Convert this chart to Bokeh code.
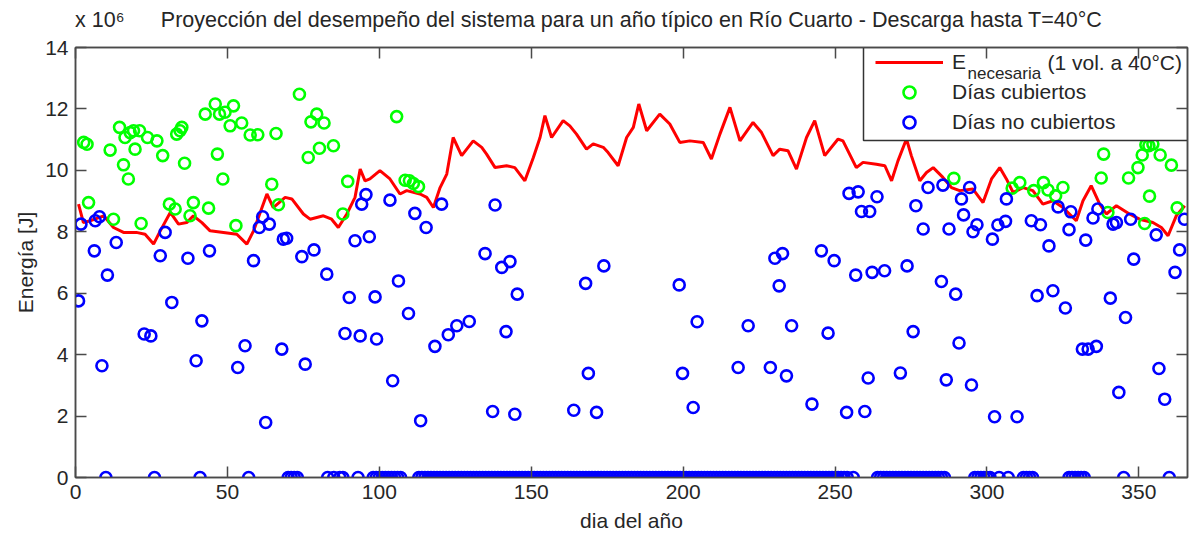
from bokeh.plotting import figure
from bokeh.models import (LinearAxis, FixedTicker, Legend, LegendItem,
                          Range1d, CustomJSTickFormatter)
from bokeh.core.properties import value
from bokeh.embed import file_html
from bokeh.resources import INLINE

FONT = "Liberation Sans"
TXT = "#262626"
AX = "#4a4a4a"

title_text = "Proyección del desempeño del sistema para un año típico en Río Cuarto - Descarga hasta T=40°C"
multiplier_text = "x 10\u2076"
x_label = "dia del año"
y_label = "Energía [J]"
legend_labels = ["E", "Días cubiertos", "Días no cubiertos"]
legend_sub = "necesaria"
legend_rest = "(1 vol. a 40°C)"
x_ticks = [0, 50, 100, 150, 200, 250, 300, 350]
y_ticks = [0, 2, 4, 6, 8, 10, 12, 14]

# Energy needed (x10^6 J)
need_day = [1, 2.6, 4.8, 9.3, 12.5, 15.8, 20, 22.9, 25.7, 27.9, 31.2, 33.9, 36.6, 38.8, 41.6,
            44.3, 48.7, 53.1, 56.4, 58.6, 63.0, 65.1, 69.0, 71.2, 75.0, 77.2, 81.6, 84.3, 86.5,
            89.3, 92.0, 93.7, 95.3, 96.9, 100.2, 103.5, 106.8, 109.0, 113.4, 115.6, 117.8, 120.0,
            122.2, 124.3, 127.1, 130.9, 133.7, 135.3, 138.1, 141.9, 144.6, 147.9, 150.7, 152.9,
            154.5, 156.7, 160.5, 162.7, 164.9, 168.2, 170.4, 173.7, 175.3, 178.6, 181.4, 183.6,
            185.4, 188.0, 192.3, 195.6, 198.9, 202.2, 206.6, 209.3, 212.1, 215.4, 218.7, 223.0,
            225.8, 229.6, 231.8, 234.5, 237.3, 240.6, 243.3, 246.6, 251.0, 252.6, 257.0, 259.2,
            263.6, 266.4, 268.6, 270.7, 273.5, 275.1, 277.9, 280.1, 282.3, 285.5, 288.3, 291.0,
            295.4, 298.7, 301.5, 304.2, 306.4, 308.6, 311.9, 315.1, 318.4, 321.7, 325.0, 329.4,
            331.6, 334.3, 337.1, 339.3, 342.6, 346.9, 350.2, 354.6, 357.4, 359.6, 362.3, 365.1]
need_val = [8.90, 8.30, 8.36, 8.52, 8.14, 7.98, 7.98, 7.92, 7.60, 8.03, 8.63, 8.25, 8.30, 8.52, 8.30,
            8.03, 7.98, 7.92, 7.60, 8.03, 9.23, 8.79, 9.12, 9.07, 8.58, 8.41, 8.52, 8.41, 8.14,
            8.58, 9.12, 10.04, 9.66, 9.72, 9.99, 9.72, 9.23, 9.34, 9.23, 9.12, 8.79, 9.44,
            9.88, 11.07, 10.48, 10.96, 10.75, 10.53, 10.09, 10.15, 10.09, 9.66, 10.42, 11.07,
            11.78, 11.07, 11.62, 11.45, 11.18, 10.69, 10.86, 10.75, 10.58, 10.15, 11.07, 11.40,
            12.16, 11.29, 11.83, 11.51, 10.91, 10.96, 10.91, 10.37, 11.18, 12.05, 10.96, 11.56,
            11.23, 10.48, 10.69, 10.64, 10.04, 11.07, 11.62, 10.48, 11.02, 10.96, 10.09, 10.26,
            10.20, 10.15, 9.66, 10.31, 11.02, 10.48, 9.66, 9.93, 10.09, 9.77, 9.44, 9.34,
            9.39, 8.95, 9.72, 10.09, 9.72, 9.28, 9.44, 9.34, 8.90, 9.01, 8.79, 8.36,
            9.01, 9.50, 8.90, 8.58, 8.85, 8.58, 8.41, 8.30, 8.14, 7.87, 8.52, 8.85]

# Covered days (x10^6 J)
cov_day = [2.7, 3.8, 4.3, 11.4, 12.5, 14.5, 15.8, 16.3, 17.4, 18.0, 19.1, 19.6, 21.1, 21.6, 23.7,
           26.8, 28.7, 30.9, 32.8, 33.3, 34.4, 35.0, 35.9, 37.7, 38.8, 42.7, 43.8, 46.0, 46.7,
           47.4, 48.5, 49.2, 50.9, 52.0, 52.8, 54.7, 57.5, 60.0, 64.6, 66.0, 66.8, 73.7, 76.6,
           77.5, 79.4, 80.3, 81.8, 84.9, 88.0, 89.6, 105.7, 108.5, 109.9, 111.2, 112.9,
           289.1, 308.3, 310.8, 315.4, 318.6, 320.1, 322.6, 325.0, 338.4, 337.6, 339.8, 346.6,
           349.7, 351.1, 352.3, 351.9, 353.3, 353.5, 354.6, 357.0, 360.7, 362.6]
cov_val = [10.91, 10.85, 8.95, 10.66, 8.41, 11.40, 10.18, 11.07, 9.72, 11.23, 11.29, 10.69, 11.29, 8.27, 11.07,
           10.96, 10.48, 8.90, 8.74, 11.18, 11.29, 11.40, 10.23, 8.52, 8.95, 11.83, 8.77, 12.16, 10.53,
           11.83, 9.72, 11.89, 11.45, 12.10, 8.20, 11.54, 11.15, 11.16, 9.55, 11.20, 8.88, 12.48, 10.42,
           11.58, 11.83, 10.72, 11.54, 10.80, 8.58, 9.64, 11.75, 9.68, 9.66, 9.57, 9.47,
           9.74, 9.42, 9.60, 9.34, 9.60, 9.36, 9.17, 9.44, 10.53, 9.75, 8.63, 9.75,
           10.09, 10.50, 10.83, 8.27, 10.80, 9.16, 10.86, 10.50, 10.17, 8.78]

# Days not covered, non-zero (x10^6 J)
unc_day = [1.0, 1.8, 6.2, 6.5, 7.9, 8.7, 10.5, 13.4, 22.6, 24.8, 27.9, 29.5, 31.7, 37.0, 39.7,
           41.6, 44.1, 53.4, 55.8, 58.6, 60.5, 61.6, 62.6, 63.8, 67.9, 68.4, 69.5, 74.5, 75.6,
           78.5, 82.7, 88.7, 90.1, 92.0, 93.7, 94.2, 95.6, 96.7, 98.6, 99.1, 103.5, 104.4, 106.3,
           109.6, 111.7, 113.6, 115.4, 118.3, 120.5, 122.7, 125.5, 129.6, 134.8, 137.3, 138.1,
           140.3, 141.7, 143.0, 144.6, 145.4, 164.0, 167.9, 168.8, 171.5, 173.9, 198.7, 199.8,
           203.3, 204.6, 218.1, 221.4, 228.7, 230.2, 231.6, 232.7, 234.0, 235.7, 242.4, 245.5,
           247.7, 249.7, 253.8, 254.6, 256.8, 257.6, 258.7, 259.8, 260.9, 261.4, 262.2, 263.8,
           266.3, 271.5, 273.7, 275.7, 276.6, 279.0, 280.6, 285.0, 285.5, 286.6, 287.5, 289.7,
           290.8, 291.6, 292.3, 294.3, 294.9, 295.4, 296.7, 301.8, 302.5, 303.6, 306.1, 306.4,
           309.9, 314.6, 316.5, 317.6, 320.4, 321.7, 323.4, 325.8, 327.0, 327.6, 331.4, 332.5,
           333.3, 334.9, 336.0, 336.5, 340.6, 341.5, 342.6, 343.4, 345.6, 347.3, 348.3, 355.7,
           356.6, 358.5, 361.9, 363.4, 365.0]
unc_val = [5.75, 8.25, 7.38, 8.36, 8.49, 3.64, 6.59, 7.65, 4.67, 4.61, 7.22, 7.98, 5.70, 7.14, 3.80,
           5.10, 7.38, 3.58, 4.29, 7.06, 8.14, 8.49, 1.79, 8.25, 4.18, 7.76, 7.79, 7.19, 3.69,
           7.41, 6.62, 4.69, 5.86, 7.71, 4.61, 8.90, 9.21, 7.84, 5.88, 4.51, 9.03, 3.15, 6.40,
           5.34, 8.60, 1.85, 8.14, 4.27, 8.90, 4.65, 4.94, 5.08, 7.29, 2.15, 8.87,
           6.84, 4.75, 7.03, 2.06, 5.97, 2.19, 6.32, 3.39, 2.12, 6.89, 6.27, 3.39,
           2.28, 5.07, 3.58, 4.94, 3.58, 7.14, 6.24, 7.29, 3.31, 4.94, 2.39, 7.38,
           4.70, 7.06, 2.12, 9.25, 6.59, 9.30, 8.66, 2.15, 3.24, 8.66, 6.68, 9.14,
           6.73, 3.40, 6.89, 4.75, 8.85, 8.09, 9.44, 6.38, 9.52, 3.18, 8.09, 5.97,
           4.38, 9.07, 8.55, 9.44, 3.01, 8.00, 8.23, 7.76, 1.98, 8.22, 8.34, 9.07,
           1.98, 8.36, 5.92, 8.23, 7.54, 6.08, 8.81, 5.52, 8.07, 8.65, 4.18, 7.73,
           4.18, 8.45, 4.27, 8.74, 5.84, 8.25, 8.30, 2.77, 5.21, 8.41, 7.11, 7.90,
           3.55, 2.55, 6.68, 7.41, 8.41]

# Days not covered with zero energy
zero_day = ([10, 26, 41, 57, 70, 71, 72, 73, 83, 85, 87, 88, 93]
            + list(range(98, 108)) + list(range(113, 255)) + [256]
            + list(range(264, 287)) + list(range(296, 302)) + [304, 307]
            + list(range(312, 316)) + list(range(327, 333)) + [345, 360])

unc_all_day = unc_day + zero_day
unc_all_val = unc_val + [0.0] * len(zero_day)

X0, X1, Y0, Y1 = 0, 366, 0, 14
FW, FH = 1112, 430          # frame size in px
BL, BT = 75, 47             # frame offset in px


def px_to_x(px):
    return X0 + (px - BL) * (X1 - X0) / FW


def py_to_y(py):
    return Y0 + (BT + FH - py) * (Y1 - Y0) / FH


p = figure(width=1196, height=535, x_range=Range1d(X0, X1), y_range=Range1d(Y0, Y1),
           output_backend="svg", toolbar_location=None, title_location=None,
           min_border_left=BL, min_border_right=9, min_border_top=BT, min_border_bottom=58)
p.background_fill_color = "white"
p.border_fill_color = "white"
p.grid.visible = False
p.outline_line_color = AX
p.outline_line_width = 1.5


def style_axis(ax, labels=True):
    ax.axis_line_color = AX
    ax.axis_line_width = 1.5
    ax.major_tick_line_color = AX
    ax.major_tick_line_width = 1.5
    ax.major_tick_in = 11
    ax.major_tick_out = 0
    ax.minor_tick_line_color = None
    if labels:
        ax.major_label_text_font = FONT
        ax.major_label_text_font_size = "21px"
        ax.major_label_text_color = TXT
        ax.axis_label_text_font = FONT
        ax.axis_label_text_font_size = "21px"
        ax.axis_label_text_font_style = "normal"
        ax.axis_label_text_color = TXT
    else:
        ax.formatter = CustomJSTickFormatter(code="return ''")
        ax.major_label_text_font_size = "0px"
        ax.major_label_standoff = 0


p.xaxis.ticker = FixedTicker(ticks=x_ticks)
p.yaxis.ticker = FixedTicker(ticks=y_ticks)
p.xaxis.axis_label = x_label
p.yaxis.axis_label = y_label
for ax in p.xaxis + p.yaxis:
    style_axis(ax)
p.xaxis.major_label_standoff = 7
p.xaxis.axis_label_standoff = 7
p.yaxis.major_label_standoff = 7
p.yaxis.axis_label_standoff = 5

top_ax = LinearAxis(ticker=FixedTicker(ticks=x_ticks))
right_ax = LinearAxis(ticker=FixedTicker(ticks=y_ticks))
style_axis(top_ax, labels=False)
style_axis(right_ax, labels=False)
p.add_layout(top_ax, "above")
p.add_layout(right_ax, "right")

# heading row: axis multiplier at the left, title centred over the frame
head_ax = LinearAxis(ticker=FixedTicker(ticks=[8, 183]),
                     major_label_overrides={8: multiplier_text, 183: title_text})
head_ax.axis_line_color = None
head_ax.major_tick_line_color = None
head_ax.minor_tick_line_color = None
head_ax.major_tick_out = 0
head_ax.major_tick_in = 0
head_ax.major_label_standoff = 16
head_ax.major_label_text_font = FONT
head_ax.major_label_text_font_size = "21.5px"
head_ax.major_label_text_color = TXT
p.add_layout(head_ax, "above")

r_line = p.line(need_day, need_val, line_color="#ff0000", line_width=3)
r_cov = p.scatter(cov_day, cov_val, marker="circle", size=11, fill_color=None,
                  line_color="#00ff00", line_width=2.6)
r_unc = p.scatter(unc_all_day, unc_all_val, marker="circle", size=11, fill_color=None,
                  line_color="#0000ff", line_width=2.6)

# legend box (white, covers the data beneath it)
p.quad(left=[px_to_x(863)], right=[X1], bottom=[py_to_y(140)], top=[Y1],
       fill_color="white", line_color="#333333", line_width=1.5)
# subscript and remainder of the first legend label
p.text(x=[px_to_x(967)], y=[py_to_y(73)], text=[legend_sub],
       text_font=value(FONT), text_font_size=value("17px"), text_color=TXT,
       text_baseline="middle", text_align="left")
p.text(x=[px_to_x(1047)], y=[py_to_y(62)], text=[legend_rest],
       text_font=value(FONT), text_font_size=value("21px"), text_color=TXT,
       text_baseline="middle", text_align="left")

legend = Legend(items=[LegendItem(label=legend_labels[0], renderers=[r_line]),
                       LegendItem(label=legend_labels[1], renderers=[r_cov]),
                       LegendItem(label=legend_labels[2], renderers=[r_unc])],
                location="top_right")
legend.label_text_font = FONT
legend.label_text_font_size = "21px"
legend.label_text_color = TXT
legend.glyph_width = 68
legend.glyph_height = 30
legend.label_height = 30
legend.label_width = 235
legend.label_standoff = 9
legend.padding = 6
legend.spacing = 0
legend.margin = 0
legend.border_line_color = None
legend.background_fill_alpha = 0
p.add_layout(legend, "center")

open("out.html", "w").write(file_html(p, INLINE))
